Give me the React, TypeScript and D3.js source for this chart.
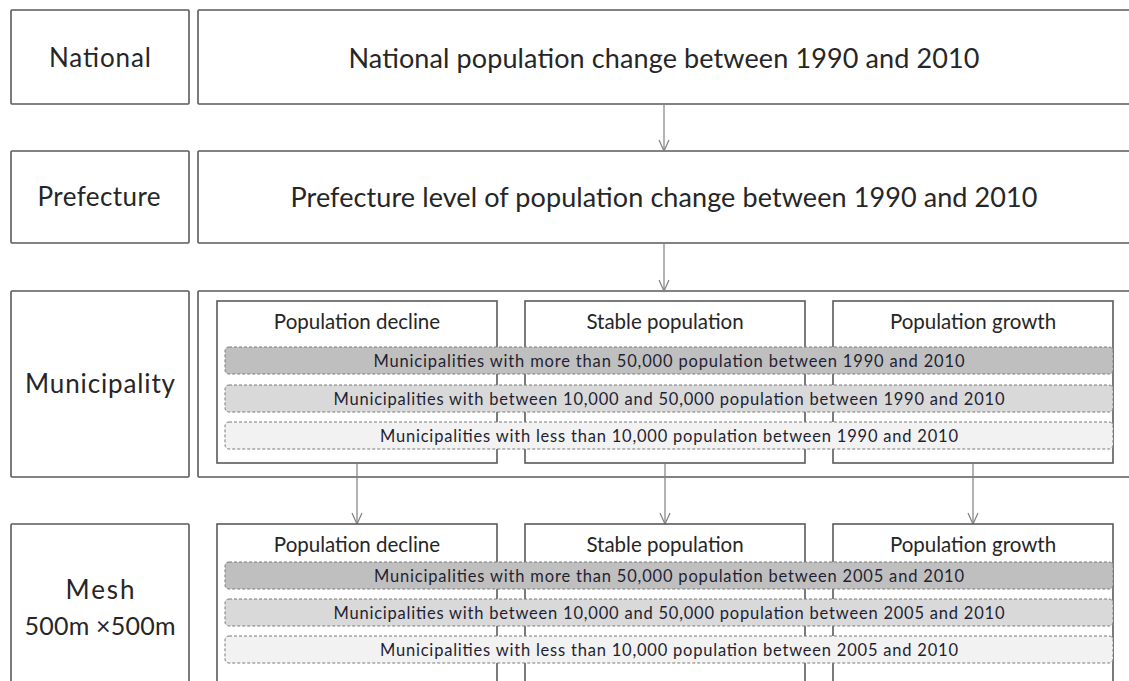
import React from "react";
import * as d3 from "d3";

const W = 1129;
const H = 681;

// ---- data ----
const levelLabels = ["National", "Prefecture", "Municipality", "Mesh"];
const meshSubLabel = "500m \u00d7500m";
const levelTitles = [
  "National population change between 1990 and 2010",
  "Prefecture level of population change between 1990 and 2010",
];
const categories = ["Population decline", "Stable population", "Population growth"];
const municipalityBands = [
  "Municipalities with more than 50,000 population between 1990 and 2010",
  "Municipalities with between 10,000 and 50,000 population between 1990 and 2010",
  "Municipalities with less than 10,000 population between 1990 and 2010",
];
const meshBands = [
  "Municipalities with more than 50,000 population between 2005 and 2010",
  "Municipalities with between 10,000 and 50,000 population between 2005 and 2010",
  "Municipalities with less than 10,000 population between 2005 and 2010",
];
const bandFills = ["#bfbfbf", "#d9d9d9", "#f2f2f2"];

// ---- layout ----
const rowTops = [10, 151, 291, 524];
const rowBottoms = [104, 243, 477, 700];
const leftX0 = 11, leftX1 = 189;
const rightX0 = 198, rightX1 = 1140;
const FONT = "Lato, 'Open Sans', sans-serif";
const BOX = "#5a5a5a";
const ARROW = "#808080";
const TXT = "#262626";

const col = d3.scaleBand<string>().domain(categories).range([217, 1113]).paddingInner(28 / 308);
const bandX0 = 225, bandX1 = 1113;

function Arrow({ x, y0, y1 }: { x: number; y0: number; y1: number }) {
  const p = d3.path();
  p.moveTo(x - 5, y1 - 11);
  p.lineTo(x, y1);
  p.lineTo(x + 5, y1 - 11);
  return (
    <g stroke={ARROW} strokeWidth={1.2} fill="none">
      <line x1={x} x2={x} y1={y0} y2={y1} />
      <path d={p.toString()} />
    </g>
  );
}

function Bands({ texts, tops, textLens }: { texts: string[]; tops: number[]; textLens: number[] }) {
  return (
    <g>
      {texts.map((t, i) => (
        <g key={i}>
          <rect x={bandX0} y={tops[i]} width={bandX1 - bandX0} height={27} rx={4} ry={4}
            fill={bandFills[i]} stroke="#7a7a7a" strokeWidth={1} strokeDasharray="3,2" />
          <text x={(bandX0 + bandX1) / 2} y={tops[i] + 14} textAnchor="middle" dominantBaseline="central"
            fontFamily={FONT} fontSize={16.5} fill="#1f1f33" textLength={textLens[i]} lengthAdjust="spacing">
            {t}
          </text>
        </g>
      ))}
    </g>
  );
}

export default function App() {
  const muniTop = 301, muniBottom = 463;
  const meshTop = 524;
  return (
    <svg width={W} height={H} style={{ position: "absolute", left: 0, top: 0, background: "#fff" }}>
      <rect x={0} y={0} width={W} height={H} fill="#fff" />
      {/* left level boxes */}
      {levelLabels.map((l, i) => (
        <rect key={"lb" + i} x={leftX0} y={rowTops[i]} width={leftX1 - leftX0} height={rowBottoms[i] - rowTops[i]}
          fill="#fff" stroke={BOX} strokeWidth={1.6} rx={1} />
      ))}
      <text x={100} y={57} textAnchor="middle" dominantBaseline="central" fontFamily={FONT} fontSize={26} fill={TXT} textLength={102} lengthAdjust="spacing">{levelLabels[0]}</text>
      <text x={99} y={196} textAnchor="middle" dominantBaseline="central" fontFamily={FONT} fontSize={26} fill={TXT} textLength={123} lengthAdjust="spacing">{levelLabels[1]}</text>
      <text x={100} y={383} textAnchor="middle" dominantBaseline="central" fontFamily={FONT} fontSize={26} fill={TXT} textLength={150} lengthAdjust="spacing">{levelLabels[2]}</text>
      <text x={100} y={589} textAnchor="middle" dominantBaseline="central" fontFamily={FONT} fontSize={26} fill={TXT} textLength={69} lengthAdjust="spacing">{levelLabels[3]}</text>
      <text x={100} y={625} textAnchor="middle" dominantBaseline="central" fontFamily={FONT} fontSize={25} fill={TXT} textLength={151} lengthAdjust="spacing">{meshSubLabel}</text>

      {/* right boxes */}
      {[0, 1, 2].map((i) => (
        <rect key={"rb" + i} x={rightX0} y={rowTops[i]} width={rightX1 - rightX0} height={rowBottoms[i] - rowTops[i]}
          fill="#fff" stroke={BOX} strokeWidth={1.6} rx={1} />
      ))}
      <text x={664} y={57} textAnchor="middle" dominantBaseline="central" fontFamily={FONT} fontSize={27} fill={TXT} textLength={631} lengthAdjust="spacing">{levelTitles[0]}</text>
      <text x={664} y={196} textAnchor="middle" dominantBaseline="central" fontFamily={FONT} fontSize={27} fill={TXT} textLength={747} lengthAdjust="spacing">{levelTitles[1]}</text>

      {/* arrows between levels */}
      <Arrow x={664} y0={104} y1={151} />
      <Arrow x={664} y0={243} y1={291} />

      {/* municipality category boxes */}
      {categories.map((c) => (
        <g key={"m" + c}>
          <rect x={col(c)!} y={muniTop} width={col.bandwidth()} height={muniBottom - muniTop}
            fill="#fff" stroke={BOX} strokeWidth={1.6} />
          <text x={col(c)! + col.bandwidth() / 2} y={321} textAnchor="middle" dominantBaseline="central"
            fontFamily={FONT} fontSize={20.5} fill={TXT}>{c}</text>
        </g>
      ))}
      <Bands texts={municipalityBands} tops={[347, 385, 422]} textLens={[591, 671, 578]} />

      {/* arrows municipality -> mesh */}
      {categories.map((c) => (
        <Arrow key={"a" + c} x={col(c)! + col.bandwidth() / 2} y0={muniBottom} y1={meshTop} />
      ))}

      {/* mesh category boxes */}
      {categories.map((c) => (
        <g key={"s" + c}>
          <rect x={col(c)!} y={meshTop} width={col.bandwidth()} height={200}
            fill="#fff" stroke={BOX} strokeWidth={1.6} />
          <text x={col(c)! + col.bandwidth() / 2} y={544} textAnchor="middle" dominantBaseline="central"
            fontFamily={FONT} fontSize={20.5} fill={TXT}>{c}</text>
        </g>
      ))}
      <Bands texts={meshBands} tops={[562, 599, 636]} textLens={[590, 671, 578]} />
    </svg>
  );
}
